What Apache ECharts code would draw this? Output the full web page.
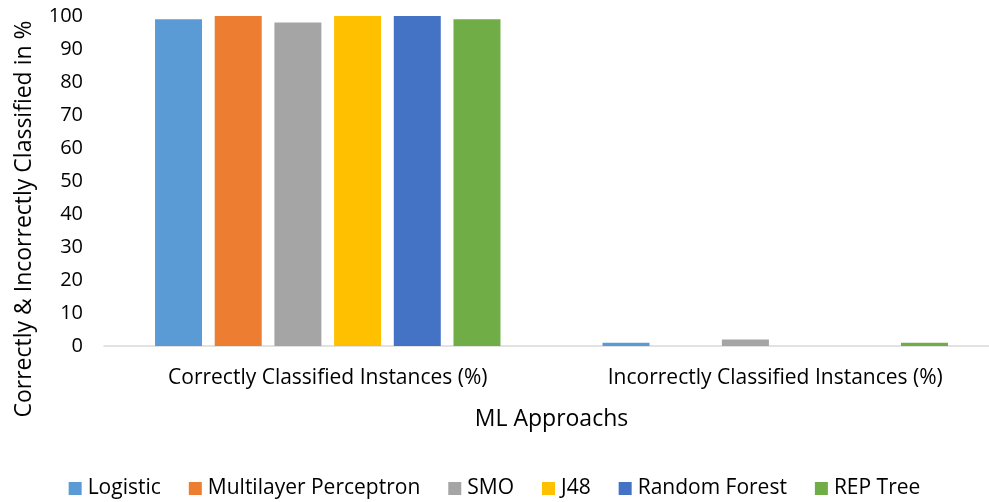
<!DOCTYPE html>
<html>
<head>
<meta charset="utf-8">
<script src="https://cdn.jsdelivr.net/npm/echarts@6/dist/echarts.min.js"></script>
<style>
  html, body { margin: 0; padding: 0; background: #fff; }
  #chart { width: 989px; height: 502px; }
</style>
</head>
<body>
<div id="chart"></div>
<script>
// Classification results per model (percent)
const categories = ['Correctly Classified Instances (%)', 'Incorrectly Classified Instances (%)'];
const logistic = [99, 1];
const multilayerPerceptron = [100, 0];
const smo = [98, 2];
const j48 = [100, 0];
const randomForest = [100, 0];
const repTree = [99, 1];

const seriesDefs = [
  { name: 'Logistic', data: logistic, color: '#5B9BD5' },
  { name: 'Multilayer Perceptron', data: multilayerPerceptron, color: '#ED7D31' },
  { name: 'SMO', data: smo, color: '#A5A5A5' },
  { name: 'J48', data: j48, color: '#FFC000' },
  { name: 'Random Forest', data: randomForest, color: '#4472C4' },
  { name: 'REP Tree', data: repTree, color: '#70AD47' }
];

const yTitle = 'Correctly & Incorrectly Classified in %';
const FONT = '"Open Sans", Lato, sans-serif';
const chart = echarts.init(document.getElementById('chart'));

chart.setOption({
  animation: false,
  textStyle: { fontFamily: FONT, color: '#000' },
  grid: { left: 104, right: -10, top: 16, bottom: 156, outerBoundsMode: 'none' },
  // vertical axis title, placed a little below the plot's middle
  graphic: [{
    type: 'text',
    x: 24,
    y: 219,
    rotation: Math.PI / 2,
    style: {
      text: yTitle,
      fontFamily: FONT,
      fontSize: 23,
      fill: '#000',
      align: 'center',
      verticalAlign: 'middle'
    }
  }],
  legend: {
    bottom: -2,
    left: 'center',
    itemWidth: 13,
    itemHeight: 13,
    itemGap: 28,
    icon: 'rect',
    textStyle: { fontFamily: FONT, fontSize: 21, color: '#000', padding: [0, 0, 0, 1] },
    data: seriesDefs.map(s => s.name)
  },
  xAxis: {
    type: 'category',
    data: categories,
    name: 'ML Approachs',
    nameLocation: 'middle',
    nameGap: 62,
    nameTextStyle: { fontFamily: FONT, fontSize: 23, color: '#000' },
    axisLine: { lineStyle: { color: '#D9D9D9', width: 1.5 } },
    axisTick: { show: false },
    axisLabel: { fontFamily: FONT, fontSize: 21, color: '#000', margin: 22 }
  },
  yAxis: {
    type: 'value',
    min: 0,
    max: 100,
    interval: 10,
    axisLine: { show: false },
    axisTick: { show: false },
    splitLine: { show: false },
    axisLabel: { fontFamily: FONT, fontSize: 20, color: '#000', margin: 21 }
  },
  series: seriesDefs.map(s => ({
    name: s.name,
    type: 'bar',
    data: s.data,
    barWidth: 47,
    barGap: '27%',
    itemStyle: { color: s.color }
  }))
});
</script>
</body>
</html>
